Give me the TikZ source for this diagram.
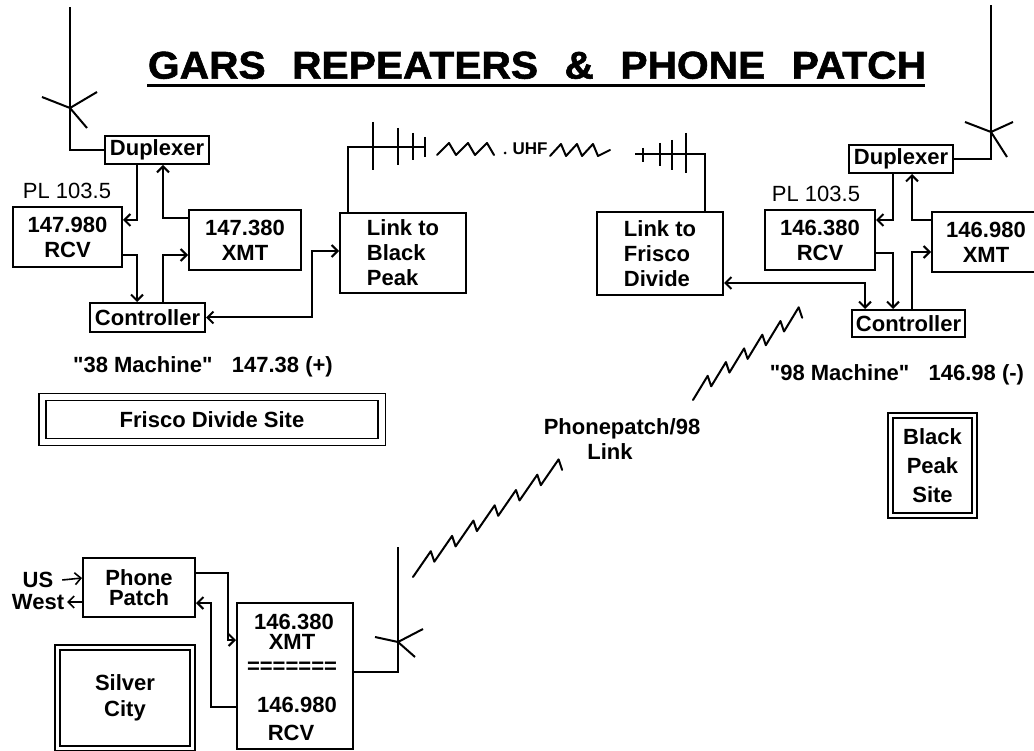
\documentclass[tikz,border=0pt]{standalone}
\usepackage{fontspec}
\setmainfont{Liberation Sans}[Ligatures=TeXOff]
\newfontfamily\titlefont[FakeBold=1.5]{Liberation Sans Bold}
\usetikzlibrary{arrows.meta}
\begin{document}
\begin{tikzpicture}[x=1pt,y=-1pt,line width=2pt,
  box/.style={draw,line width=2pt,inner sep=0pt,align=center,font=\fontsize{22}{25}\selectfont\bfseries},
  lbl/.style={inner sep=0pt,align=center,font=\fontsize{22}{25}\selectfont\bfseries},
  pl/.style={inner sep=0pt,font=\fontsize{22}{26}\selectfont},
  sitebox/.style={draw,double,line width=1.6pt,inner sep=0pt,align=center,font=\fontsize{22}{25}\selectfont\bfseries},
  arr/.style={-{Straight Barb[length=6pt,width=12pt]}},
  arrb/.style={{Straight Barb[length=6pt,width=12pt]}-{Straight Barb[length=6pt,width=12pt]}},
  wire/.style={line width=2pt},
  zz/.style={line width=2pt,line join=round,line cap=round}
]
\useasboundingbox (0,0) rectangle (1034,751);
\clip (0,0) rectangle (1034,751);
\fill[white] (0,0) rectangle (1034,751);

% title
\node[inner sep=0pt,anchor=south west] (title) at (147,80)
  {\resizebox{778pt}{27pt}{\titlefont GARS\hspace{0.65em}REPEATERS\hspace{0.65em}\&\hspace{0.65em}PHONE\hspace{0.65em}PATCH}};
\draw[line width=3pt] (title.south west) ++(0,6) -- ++(778,0);

% ---------- Frisco Divide (left) ----------
\node[box,minimum width=104pt,minimum height=28pt] (dupL) at (157,150) {Duplexer};
\node[box,minimum width=109pt,minimum height=60pt] (rcvL) at (67.5,237) {147.980\\RCV};
\node[box,minimum width=112pt,minimum height=60pt] (xmtL) at (245,240) {147.380\\XMT};
\node[box,minimum width=126pt,minimum height=80pt,align=left] (linkBP) at (403,253) {Link to\\Black\\Peak};
\node[box,minimum width=115pt,minimum height=29pt] (ctrlL) at (147.5,317.5) {Controller};
\node[pl] (plL) at (67,191) {PL 103.5};
\node[lbl] (m38) at (203,367) {"38 Machine"\hspace{0.6em} 147.38 (+)};
\node[sitebox,double distance=5.5pt,minimum width=339.5pt,minimum height=45pt] (siteFD) at (212,419.5) {Frisco Divide Site};

% left antenna
\coordinate (mastL) at (70,7);
\draw[wire] (dupL.west) -| (mastL);
\coordinate (xL) at (70,108);
\draw[wire] (42,97) -- (xL) -- (97,92);
\draw[wire] (xL) -- (87,128);

% left connectors
\draw[wire,arr] (137,0 |- dupL.south) |- (rcvL.east |- 0,220);
\draw[wire,arr] (xmtL.west |- 0,218) -| (163,0 |- dupL.south);
\draw[wire,arr] (rcvL.east |- 0,255) -| (137,0 |- ctrlL.north);
\draw[wire,arr] (163,0 |- ctrlL.north) |- (xmtL.west |- 0,255);
\draw[wire,arrb] (ctrlL.east) -| (312,251) -- (linkBP.west |- 0,251);

% left yagi
\coordinate (yagiL) at (425,147);
\draw[wire] (348,0 |- linkBP.north) |- (yagiL);
\draw[wire] (373,122) -- (373,170);
\draw[wire] (398,128) -- (398,165);
\draw[wire] (413,133) -- (413,160);
\draw[wire] (425,137) -- (425,157);

% UHF
\draw[zz] (437,155) \foreach \i in {1,2,3} { -- ++(12,-12) -- ++(7,12) };
\fill (505,153) circle (1.5pt);
\node[inner sep=0pt,font=\fontsize{17}{20}\selectfont\bfseries] (uhf) at (530,149) {UHF};
\draw[zz] (550,156) \foreach \i in {1,2,3} { -- ++(11,-12) -- ++(5,12) } -- ++(12,-6);

% ---------- Black Peak (right) ----------
\node[box,minimum width=104pt,minimum height=28pt] (dupR) at (901,159) {Duplexer};
\node[box,minimum width=110pt,minimum height=60pt] (rcvR) at (820,240) {146.380\\RCV};
\node[box,minimum width=108pt,minimum height=60pt] (xmtR) at (986,242) {146.980\\XMT};
\node[box,minimum width=126pt,minimum height=83pt,align=left] (linkFD) at (660,253.5) {Link to\\Frisco\\Divide};
\node[box,minimum width=113pt,minimum height=27pt] (ctrlR) at (908.5,323.5) {Controller};
\node[pl] (plR) at (816,194) {PL 103.5};
\node[lbl] (m98) at (897,375) {"98 Machine"\hspace{0.6em} 146.98 (-)};
\node[sitebox,double distance=3.5pt,minimum width=84pt,minimum height=100pt,
  font=\fontsize{22}{29}\selectfont\bfseries] (siteBP) at (932.5,465.5) {Black\\Peak\\Site};

% right antenna
\coordinate (mastR) at (991,5);
\draw[wire] (dupR.east) -| (mastR);
\coordinate (xR) at (991,132);
\draw[wire] (965,122) -- (xR) -- (1013,122);
\draw[wire] (xR) -- (1007,157);

% right connectors
\draw[wire,arr] (893,0 |- dupR.south) |- (rcvR.east |- 0,220);
\draw[wire,arr] (xmtR.west |- 0,220) -| (912,0 |- dupR.south);
\draw[wire,arr] (rcvR.east |- 0,253) -| (893,0 |- ctrlR.north);
\draw[wire,arr] (912,0 |- ctrlR.north) |- (xmtR.west |- 0,252);
\draw[wire,arrb] (linkFD.east |- 0,283) -| (865,0 |- ctrlR.north);

% right yagi
\coordinate (yagiR) at (635,154);
\draw[wire] (705,0 |- linkFD.north) |- (yagiR);
\draw[wire] (643,148) -- (643,162);
\draw[wire] (660,143) -- (660,166);
\draw[wire] (672,140) -- (672,170);
\draw[wire] (686,133) -- (686,173);

% ---------- Phonepatch link ----------
\draw[zz] (693,400) \foreach \i in {1,...,6} { -- ++(14.7,-24.2) -- ++(3.5,10.5) };
\node[lbl] (pp1) at (622,429) {Phonepatch/98};
\node[lbl] (pp2) at (610,452) {Link};
\draw[zz] (413,577) \foreach \i in {1,...,7} { -- ++(17.8,-25.8) -- ++(3.5,10.5) };

% ---------- Silver City ----------
\node[box,minimum width=112pt,minimum height=59pt,font=\fontsize{22}{20}\selectfont\bfseries] (patch) at (139,587.5) {Phone\\Patch};
\node[draw,line width=2pt,inner sep=0pt,minimum width=116pt,minimum height=146pt] (radio) at (295,676) {};
\node[lbl] (r1) at (294,622) {146.380};
\node[lbl] (r2) at (292,642) {XMT};
\node[lbl] (r3) at (292,668) {=======};
\node[lbl] (r4) at (297,705) {146.980};
\node[lbl] (r5) at (291,733) {RCV};
\node[sitebox,double distance=3pt,minimum width=135pt,minimum height=100.5pt,
  font=\fontsize{22}{26}\selectfont\bfseries] (siteSC) at (125,697.75) {Silver\\City};
\node[lbl] (us) at (38,580) {US};
\node[lbl] (west) at (38,602) {West};
\draw[line width=1.6pt,arr] ([xshift=8pt]us.east) -- (patch.west |- 0,578);
\draw[line width=1.6pt,arr] (patch.west |- 0,602) -- ([xshift=2pt]west.east);
\draw[wire,arr] (patch.east |- 0,573) -| (228,640) -- (radio.west |- 0,640);
\draw[wire,arr] (radio.west |- 0,707) -| (211,603) -- (patch.east |- 0,603);

% bottom antenna
\coordinate (mastB) at (398,547);
\draw[wire] (radio.east |- 0,672) -| (mastB);
\coordinate (xB) at (398,642);
\draw[wire] (375,637) -- (xB) -- (423,629);
\draw[wire] (xB) -- (415,657);
\end{tikzpicture}
\end{document}
